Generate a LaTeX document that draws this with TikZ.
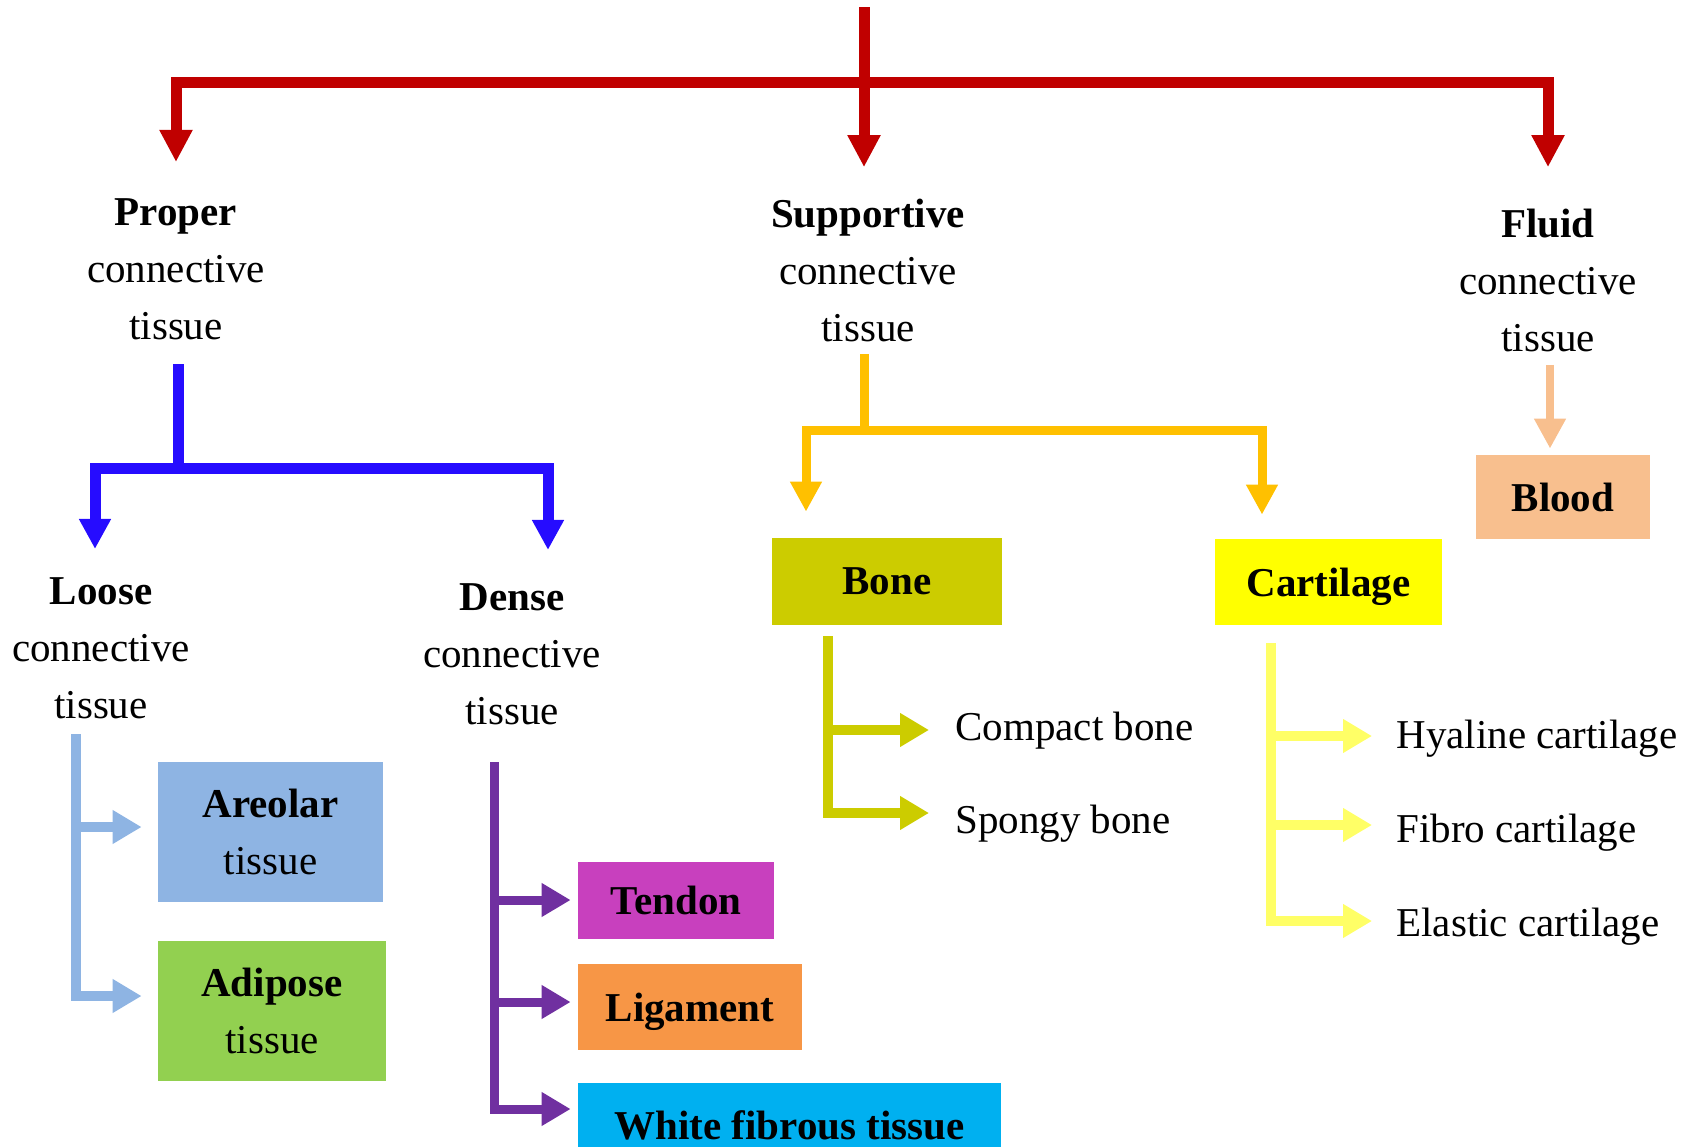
\documentclass[tikz,border=0pt]{standalone}
\usepackage{fontspec}
\setmainfont{Liberation Serif}
\usetikzlibrary{arrows.meta}
\definecolor{cred}{HTML}{C00000}
\definecolor{cblue}{RGB}{38,12,255}
\definecolor{corange}{HTML}{FFC000}
\definecolor{cpeach}{HTML}{F8BF8E}
\definecolor{colive}{HTML}{CCCC00}
\definecolor{cyellow}{HTML}{FFFF00}
\definecolor{clyellow}{HTML}{FFFF66}
\definecolor{clblue}{HTML}{8EB4E3}
\definecolor{cgreen}{HTML}{92D050}
\definecolor{cpurple}{HTML}{7030A0}
\definecolor{cmagenta}{RGB}{200,64,190}
\definecolor{cligorange}{HTML}{F79646}
\definecolor{ccyan}{HTML}{00B0F0}
\begin{document}
\begin{tikzpicture}[x=0.5pt,y=-0.5pt,
  txt/.style={align=center, inner sep=0pt, font=\fontsize{20.5}{28.5}\selectfont},
  box/.style={txt, fill=#1, text depth=0pt},
  bigtip/.style={-{Triangle[width=15.5pt,length=16pt]}},
  midtip/.style={-{Triangle[width=15pt,length=15pt]}},
  armtip/.style={-{Triangle[width=16pt,length=14.5pt]}},
  redline/.style={draw=cred, line width=5.5pt, line join=miter},
  blueline/.style={draw=cblue, line width=5.5pt, line join=miter},
  orangeline/.style={draw=corange, line width=4.5pt, line join=miter},
  peachline/.style={draw=cpeach, line width=4pt},
  lbline/.style={draw=clblue, line width=5pt, line join=miter},
  purpleline/.style={draw=cpurple, line width=4.5pt, line join=miter},
  oliveline/.style={draw=colive, line width=5pt, line join=miter},
  yelline/.style={draw=clyellow, line width=5pt, line join=miter}]
\useasboundingbox (0,0) rectangle (1696,1146);
\clip (0,0) rectangle (1696,1146);

% text nodes
\node[txt] (proper) at (176,269) {\textbf{Proper}\\connective\\tissue};
\node[txt] (supp) at (868,270) {\textbf{Supportive}\\connective\\tissue};
\node[txt] (fluid) at (1548,280) {\textbf{Fluid}\\connective\\tissue};
\node[txt] (loose) at (101,648) {\textbf{Loose}\\connective\\tissue};
\node[txt] (dense) at (512,654) {\textbf{Dense}\\connective\\tissue};

% boxes
\node[box=clblue, minimum width=112.5pt, minimum height=70pt] (areolar) at (270.5,832) {\textbf{Areolar}\\tissue};
\node[box=cgreen, minimum width=114pt, minimum height=70pt] (adipose) at (272,1011) {\textbf{Adipose}\\tissue};
\node[box=cmagenta, minimum width=98pt, minimum height=38.5pt] (tendon) at (676,900.5) {\textbf{Tendon}};
\node[box=cligorange, minimum width=112pt, minimum height=43pt] (ligament) at (690,1007) {\textbf{Ligament}};
\node[box=ccyan, minimum width=211.5pt, minimum height=42pt] (white) at (789.5,1125) {\textbf{White fibrous tissue}};
\node[box=colive, minimum width=115pt, minimum height=43.5pt] (bone) at (887,581.5) {\textbf{Bone}};
\node[box=cyellow, minimum width=113.5pt, minimum height=43pt] (cart) at (1328.5,582) {\textbf{Cartilage}};
\node[box=cpeach, minimum width=87pt, minimum height=42pt] (blood) at (1563,497) {\textbf{Blood}};

% leaf texts
\node[txt, anchor=west] (compact) at (955,731) {Compact bone};
\node[txt, anchor=west] (spongy) at (955,824) {Spongy bone};
\node[txt, anchor=west] (hyaline) at (1396,739) {Hyaline cartilage};
\node[txt, anchor=west] (fibro) at (1396,833) {Fibro cartilage};
\node[txt, anchor=west] (elastic) at (1396,927) {Elastic cartilage};

% red
\coordinate (rtop) at (864,7);
\coordinate (rbar) at (864,82);
\draw[redline, bigtip, shorten >=15.5pt] (rtop) -- (rtop |- supp.north);
\draw[redline, bigtip, shorten >=18pt] (rbar) -| (proper.north);
\draw[redline, bigtip, shorten >=20.5pt] (rbar) -| (fluid.north);

% blue
\coordinate (bj) at (178,468);
\coordinate (bl) at (95,468);
\coordinate (br) at (548,468);
\draw[blueline, shorten <=12pt] (proper.south -| bj) -- (bj);
\draw[blueline, midtip, shorten >=14pt] (bj) -| (bl |- loose.north);
\draw[blueline, midtip, shorten >=16.5pt] (bj) -| (br |- dense.north);

% orange
\coordinate (oj) at (864,430);
\coordinate (ol) at (806,430);
\coordinate (or) at (1262,430);
\draw[orangeline, shorten <=6pt] (supp.south -| oj) -- (oj);
\draw[orangeline, midtip, shorten >=13pt] (oj) -| (ol |- bone.north);
\draw[orangeline, midtip, shorten >=12pt] (oj) -| (or |- cart.north);

% peach
\coordinate (fx) at (1550,400);
\draw[peachline, midtip, shorten <=6.5pt, shorten >=3pt] (fluid.south -| fx) -- (blood.north -| fx);

% light blue
\coordinate (la1) at (76,827);
\coordinate (la2) at (76,996);
\draw[lbline, armtip, shorten <=7.5pt, shorten >=8pt] (loose.south -| la2) |- (la2 -| adipose.west);
\draw[lbline, armtip, shorten >=8pt] (la1) -- (la1 -| areolar.west);

% purple
\coordinate (pa1) at (494,900);
\coordinate (pa2) at (494,1002);
\coordinate (pa3) at (494,1109);
\draw[purpleline, armtip, shorten <=18.5pt, shorten >=3.5pt] (dense.south -| pa3) |- (pa3 -| white.west);
\draw[purpleline, armtip, shorten >=3.5pt] (pa1) -- (pa1 -| tendon.west);
\draw[purpleline, armtip, shorten >=3.5pt] (pa2) -- (pa2 -| ligament.west);

% olive
\coordinate (ba1) at (828,730);
\coordinate (ba2) at (828,813);
\draw[oliveline, armtip, shorten <=5.5pt, shorten >=13pt] (bone.south -| ba2) |- (ba2 -| spongy.west);
\draw[oliveline, armtip, shorten >=13pt] (ba1) -- (ba1 -| compact.west);

% light yellow
\coordinate (ca1) at (1271,736);
\coordinate (ca2) at (1271,825);
\coordinate (ca3) at (1271,921);
\draw[yelline, armtip, shorten <=9pt, shorten >=12pt] (cart.south -| ca3) |- (ca3 -| elastic.west);
\draw[yelline, armtip, shorten >=12pt] (ca1) -- (ca1 -| hyaline.west);
\draw[yelline, armtip, shorten >=12pt] (ca2) -- (ca2 -| fibro.west);
\end{tikzpicture}
\end{document}
